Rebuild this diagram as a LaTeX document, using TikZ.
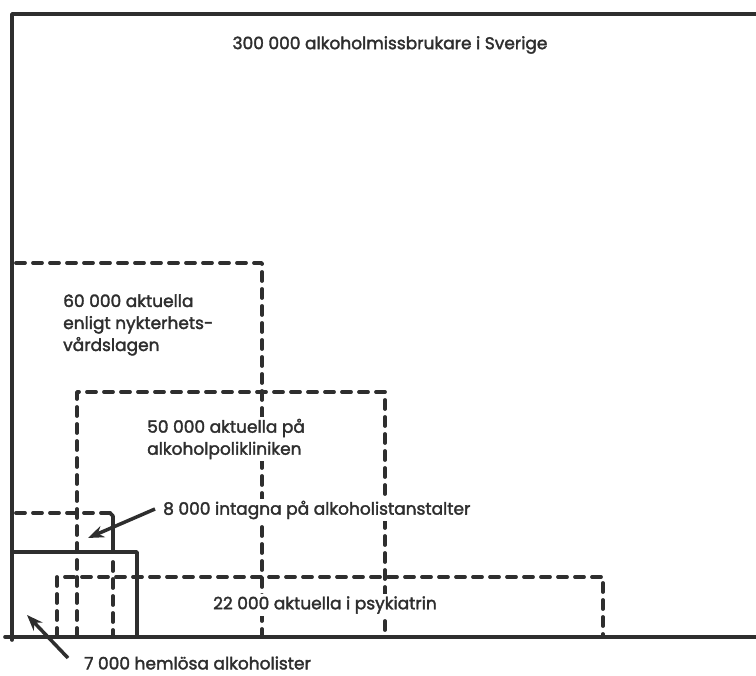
\documentclass[tikz,border=0pt]{standalone}
\usepackage{fontspec}
\newfontfamily\handfont{Poppins}[FakeBold=2]
\usetikzlibrary{arrows.meta}
\definecolor{ink}{HTML}{2E2E2E}
\tikzset{
  solidline/.style={draw=ink, line width=3.6pt, line cap=round, line join=round},
  dashline/.style={draw=ink, line width=3.8pt, line cap=round, line join=round, dash pattern=on 9pt off 8pt},
  label/.style={text=ink, font=\handfont\fontsize{17}{22}\selectfont, inner sep=2pt, fill=white, align=left},
  pointer/.style={draw=ink, fill=ink, line width=3.5pt, -{Stealth[length=16pt,width=12pt]}}
}
\begin{document}
\begin{tikzpicture}[x=1pt,y=-1pt]
\useasboundingbox (0,0) rectangle (756,676);
% outer frame
\draw[solidline] (756,14) -- (12,14) -- (12,640);
\draw[solidline] (5,637) -- (756,637);
% 60 000 region
\draw[dashline] (16,263) -- (262,263) -- (262,637);
% 50 000 region
\draw[dashline] (77,637) -- (77,392) -- (385,392) -- (385,637);
% 22 000 region
\draw[dashline] (57,637) -- (57,577) -- (603,577) -- (603,637);
% 8 000 region
\draw[dashline] (16,513) -- (110,513);
\draw[solidline] (110,513) -- (113,516) -- (113,552);
\draw[dashline] (113,562) -- (113,637);
% 7 000 region
\draw[solidline] (12,552) -- (137,552) -- (137,637);
% texts
\node[label, anchor=center] (t300) at (390,45) {300 000 alkoholmissbrukare i Sverige};
\node[label, anchor=west] (t60) at (61,325) {60 000 aktuella\\enligt nykterhets-\\vårdslagen};
\node[label, anchor=west] (t50) at (145,439) {50 000 aktuella på\\alkoholpolikliniken};
\node[label, anchor=west] (t8) at (161,510) {8 000 intagna på alkoholistanstalter};
\node[label, anchor=west] (t22) at (211,605) {22 000 aktuella i psykiatrin};
\node[label, anchor=west] (t7) at (82,663) {7 000 hemlösa alkoholister};
% pointers
\coordinate (p8) at (88,538);
\coordinate (p7) at (27,615);
\draw[pointer] ([xshift=-6pt,yshift=1pt]t8.west) -- (p8);
\draw[pointer] ([xshift=-14pt,yshift=5pt]t7.west) -- (p7);
\end{tikzpicture}
\end{document}
